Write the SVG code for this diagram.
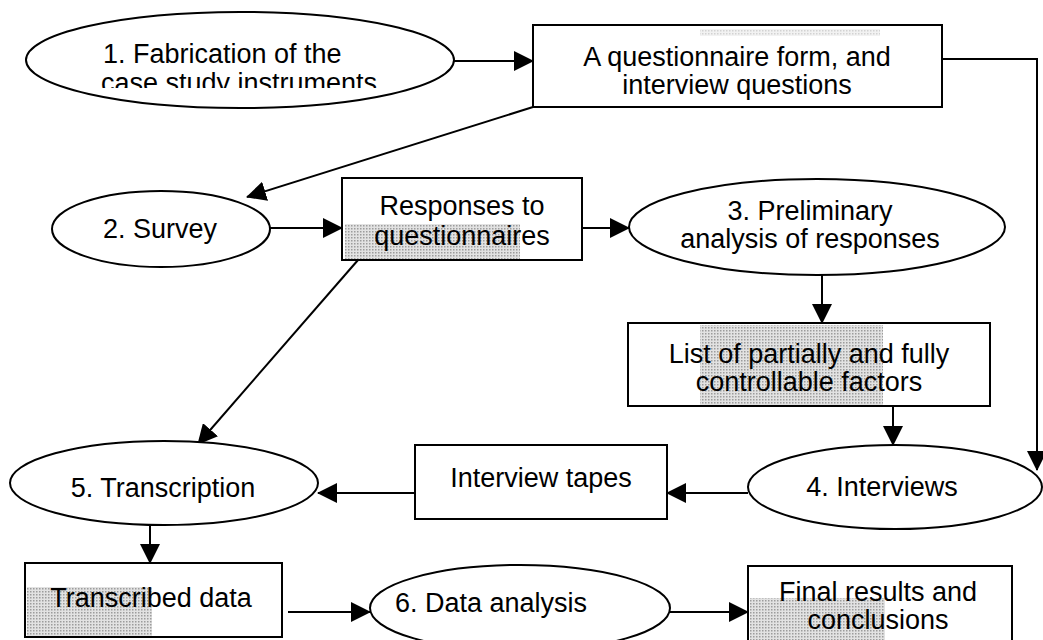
<svg xmlns="http://www.w3.org/2000/svg" width="1043" height="640" viewBox="0 0 1043 640">
  <style>
    .shape { fill: #ffffff; stroke: #000000; stroke-width: 2; }
    .label { font-family: "Liberation Sans", Arial, sans-serif; font-size: 27px; fill: #000000; text-anchor: middle; }
    .left { text-anchor: start; }
    .wire { fill: none; stroke: #000000; stroke-width: 2; }
    .shade { fill: url(#screen); }
  </style>
  <defs>
    <marker id="head" markerUnits="userSpaceOnUse" markerWidth="20" markerHeight="20" refX="19" refY="10" orient="auto">
      <path d="M0,0 L20,10 L0,20 Z" fill="#000000"/>
    </marker>
    <pattern id="screen" width="3" height="3" patternUnits="userSpaceOnUse">
      <rect width="3" height="3" fill="#e2e2e2"/>
      <rect width="1.5" height="1.5" fill="#9c9c9c"/>
    </pattern>
    <clipPath id="clip-fab">
      <rect x="30" y="20" width="420" height="68"/>
    </clipPath>
  </defs>

  <rect width="1043" height="640" fill="#ffffff"/>

  <!-- connectors -->
  <g id="connectors">
    <line class="wire" x1="454" y1="61" x2="533" y2="61" marker-end="url(#head)"/>
    <polyline class="wire" points="942,59 1037,59 1037,470" marker-end="url(#head)"/>
    <line class="wire" x1="533" y1="107" x2="247" y2="197" marker-end="url(#head)"/>
    <line class="wire" x1="270" y1="228" x2="342" y2="228" marker-end="url(#head)"/>
    <line class="wire" x1="582" y1="228" x2="629" y2="228" marker-end="url(#head)"/>
    <line class="wire" x1="822" y1="275" x2="822" y2="323" marker-end="url(#head)"/>
    <line class="wire" x1="893" y1="406" x2="893" y2="445" marker-end="url(#head)"/>
    <line class="wire" x1="748" y1="493" x2="667" y2="493" marker-end="url(#head)"/>
    <line class="wire" x1="415" y1="493" x2="318" y2="493" marker-end="url(#head)"/>
    <line class="wire" x1="358" y1="260" x2="198" y2="444" marker-end="url(#head)"/>
    <line class="wire" x1="150" y1="524" x2="150" y2="563" marker-end="url(#head)"/>
    <line class="wire" x1="288" y1="612" x2="370" y2="612" marker-end="url(#head)"/>
    <line class="wire" x1="670" y1="612" x2="748" y2="612" marker-end="url(#head)"/>
  </g>

  <!-- 1. Fabrication -->
  <g id="fabrication">
    <ellipse class="shape" cx="240" cy="60" rx="214" ry="48"/>
    <g clip-path="url(#clip-fab)">
      <text class="label left" x="103" y="63">1. Fabrication of the</text>
      <text class="label left" x="101" y="92">case study instruments</text>
    </g>
  </g>

  <!-- questionnaire form -->
  <g id="questionnaire-form">
    <rect class="shape" x="533" y="25" width="409" height="82"/>
    <rect x="700" y="29" width="180" height="7" fill="url(#screen)" opacity="0.45"/>
    <text class="label" x="737" y="66">A questionnaire form, and</text>
    <text class="label" x="737" y="94">interview questions</text>
  </g>

  <!-- 2. Survey -->
  <g id="survey">
    <ellipse class="shape" cx="161" cy="229" rx="109" ry="38"/>
    <text class="label" x="160" y="238">2. Survey</text>
  </g>

  <!-- responses -->
  <g id="responses">
    <rect class="shape" x="342" y="178" width="240" height="82"/>
    <rect class="shade" x="345" y="224" width="175" height="35"/>
    <text class="label" x="462" y="215">Responses to</text>
    <text class="label" x="462" y="245">questionnaires</text>
  </g>

  <!-- 3. Preliminary analysis -->
  <g id="preliminary-analysis">
    <ellipse class="shape" cx="817" cy="227" rx="188" ry="48"/>
    <text class="label" x="810" y="220">3. Preliminary</text>
    <text class="label" x="810" y="248">analysis of responses</text>
  </g>

  <!-- controllable factors -->
  <g id="factor-list">
    <rect class="shape" x="628" y="323" width="362" height="83"/>
    <rect class="shade" x="700" y="325" width="183" height="80"/>
    <text class="label" x="809" y="363">List of partially and fully</text>
    <text class="label" x="809" y="391">controllable factors</text>
  </g>

  <!-- 4. Interviews -->
  <g id="interviews">
    <ellipse class="shape" cx="895" cy="487" rx="147" ry="42"/>
    <text class="label" x="882" y="496">4. Interviews</text>
  </g>

  <!-- interview tapes -->
  <g id="interview-tapes">
    <rect class="shape" x="415" y="445" width="252" height="74"/>
    <text class="label" x="541" y="487">Interview tapes</text>
  </g>

  <!-- 5. Transcription -->
  <g id="transcription">
    <ellipse class="shape" cx="164" cy="483" rx="154" ry="42"/>
    <text class="label" x="163" y="497">5. Transcription</text>
  </g>

  <!-- transcribed data -->
  <g id="transcribed-data">
    <rect class="shape" x="25" y="563" width="257" height="74"/>
    <rect class="shade" x="27" y="587" width="125" height="49"/>
    <text class="label" x="151" y="607">Transcribed data</text>
  </g>

  <!-- 6. Data analysis -->
  <g id="data-analysis">
    <ellipse class="shape" cx="520" cy="608" rx="150" ry="43"/>
    <text class="label" x="491" y="612">6. Data analysis</text>
  </g>

  <!-- final results -->
  <g id="final-results">
    <rect class="shape" x="748" y="566" width="264" height="80"/>
    <rect class="shade" x="750" y="598" width="135" height="42"/>
    <text class="label" x="878" y="601">Final results and</text>
    <text class="label" x="878" y="629">conclusions</text>
  </g>
</svg>
